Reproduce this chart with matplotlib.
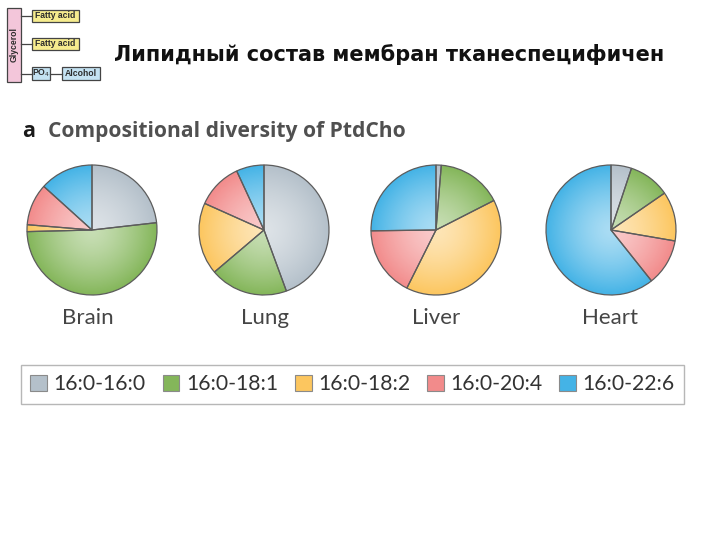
import numpy as np
import matplotlib.pyplot as plt
from matplotlib.patches import Rectangle, Circle

# PtdCho species shares (%) per tissue, read clockwise from 12 o'clock
species = ["16:0-16:0", "16:0-18:1", "16:0-18:2", "16:0-20:4", "16:0-22:6"]
tissues = ["Brain", "Lung", "Liver", "Heart"]
brain = [23.2, 51.4, 1.7, 10.4, 13.3]
lung = [44.4, 19.4, 17.9, 11.4, 6.9]
liver = [1.3, 16.2, 39.9, 17.4, 25.2]
heart = [5.1, 10.3, 12.3, 11.6, 60.7]
shares = [brain, lung, liver, heart]

colors = ["#b4c0ca", "#84b65a", "#fcc65f", "#f28b8b", "#44b3e6"]

W, H = 720, 540
fig = plt.figure(figsize=(7.2, 5.4), dpi=100)
base = fig.add_axes([0, 0, 1, 1])
base.set_xlim(0, W)
base.set_ylim(H, 0)
base.axis("off")

# headline
base.text(114, 61, "Липидный состав мембран тканеспецифичен",
          fontsize=15, fontweight="bold", family="DejaVu Sans",
          color="#111111", va="baseline", ha="left")

# glycerophospholipid sketch, top left
box_font = dict(family="Liberation Sans", fontweight="bold", fontsize=6.2,
                color="#2b2b2b", ha="center", va="center")
base.add_patch(Rectangle((7, 8), 14, 74, fc="#f3c6da", ec="#444444", lw=0.9))
base.text(14, 45, "Glycerol", rotation=90, **box_font)
for y0 in (10, 38):
    base.add_patch(Rectangle((32, y0), 47, 12, fc="#f6ec8e", ec="#444444", lw=0.9))
    base.text(55.5, y0 + 6, "Fatty acid", **box_font)
    base.plot([21, 32], [y0 + 6, y0 + 6], color="#444444", lw=0.9)
base.add_patch(Rectangle((32, 67), 18, 13, fc="#c4e2f2", ec="#444444", lw=0.9))
base.text(41, 73.5, "PO$_4$", **box_font)
base.add_patch(Rectangle((62, 67), 38, 13, fc="#c4e2f2", ec="#444444", lw=0.9))
base.text(81, 73.5, "Alcohol", **box_font)
base.plot([21, 32], [73.5, 73.5], color="#444444", lw=0.9)
base.plot([50, 62], [73.5, 73.5], color="#444444", lw=0.9)

# panel title
base.text(22, 137, "a", fontsize=15.5, fontweight="bold", family="Open Sans",
          color="#1a1a1a", va="baseline")
base.text(48, 137, "Compositional diversity of PtdCho", fontsize=15.1,
          fontweight="bold", family="Open Sans", color="#505050", va="baseline")

# pies
centers_x = [92, 264, 436, 611]
cy, r = 230, 65
pad = 3
yy, xx = np.mgrid[-1:1:300j, -1:1:300j]
rr = np.sqrt(xx ** 2 + yy ** 2)
glow = np.zeros((300, 300, 4))
glow[..., :3] = 1.0
glow[..., 3] = np.clip(0.55 * (1 - rr ** 1.4), 0, 1)

wedges = None
for name, vals, cx, lx in zip(tissues, shares, centers_x, [88, 265, 436, 610]):
    side = 2 * (r + pad)
    ax = fig.add_axes([(cx - r - pad) / W, (H - cy - r - pad) / H, side / W, side / H])
    w, _ = ax.pie(vals, colors=colors, startangle=90, counterclock=False,
                  wedgeprops=dict(edgecolor="none", linewidth=0))
    if wedges is None:
        wedges = w
    im = ax.imshow(glow, extent=(-1, 1, -1, 1), zorder=2, interpolation="bilinear")
    im.set_clip_path(Circle((0, 0), 1, transform=ax.transData))
    ax.pie(vals, colors=["none"] * 5, startangle=90, counterclock=False,
           wedgeprops=dict(edgecolor="#5c5c5c", linewidth=0.9, zorder=3))
    lim = (r + pad) / r
    ax.set_xlim(-lim, lim)
    ax.set_ylim(-lim, lim)
    ax.set_aspect("equal")
    ax.axis("off")
    base.text(lx, 324, name, fontsize=16, family="Lato", color="#454545",
              ha="center", va="baseline")

leg = fig.legend(wedges, species, loc="center", ncol=5,
                 bbox_to_anchor=((25 + 680) / 2 / W, 1 - 384 / H),
                 prop=dict(family="Lato", size=15.2), frameon=True,
                 fancybox=False, edgecolor="#a5a5a5", handlelength=0.8,
                 handleheight=0.8, handletextpad=0.3, columnspacing=0.8,
                 borderpad=0.45, borderaxespad=0)
leg.get_frame().set_linewidth(1.0)
for t in leg.get_texts():
    t.set_color("#333333")
for p in leg.get_patches():
    p.set_edgecolor("#8a8a8a")
    p.set_linewidth(0.8)

fig.savefig("out.png", dpi=100)
